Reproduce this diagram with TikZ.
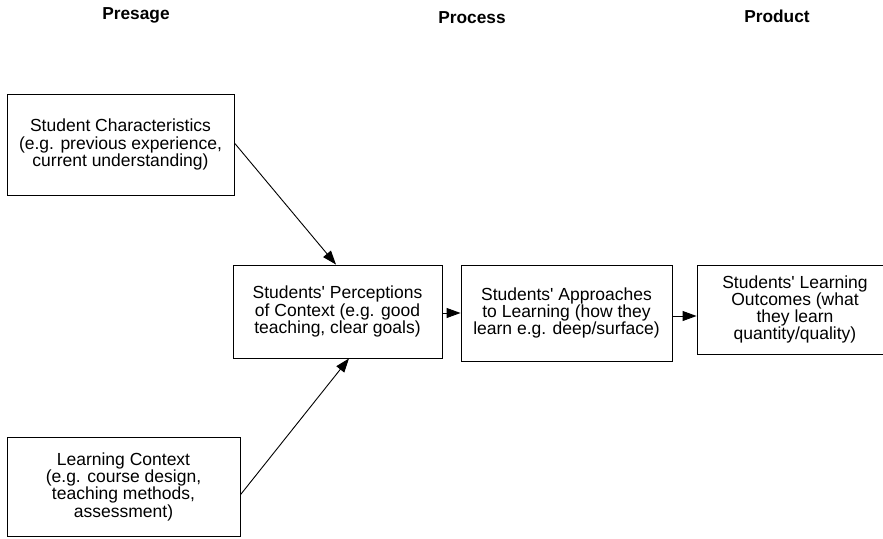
\documentclass[tikz,border=0pt]{standalone}
\usepackage{fontspec}
\setmainfont{Liberation Sans}
\usetikzlibrary{arrows.meta}
\tikzset{
  box/.style={draw, line width=0.9pt, rectangle, align=center, inner sep=0pt,
    font=\fontsize{17.5}{17.2}\selectfont},
  head/.style={font=\fontsize{17.3}{18}\selectfont\bfseries, inner sep=0pt},
  conn/.style={line width=0.9pt, -{Triangle[length=14pt,width=10pt]}}
}
\newcommand{\ap}{\textquotesingle}
\begin{document}
\begin{tikzpicture}[x=1pt,y=-1pt]
\useasboundingbox (0,0) rectangle (883,538);
\node[head] (presage) at (136,15) {Presage};
\node[head] (process) at (472,18) {Process};
\node[head] (product) at (777,16) {Product};
\node[box, minimum width=227pt, minimum height=101pt] (b1) at (120.5,144.5)
  {Student Characteristics\\(e.g. previous experience,\\current understanding)};
\node[box, minimum width=209pt, minimum height=93pt] (b2) at (337.5,311.5)
  {Students\ap{} Perceptions\\of Context (e.g. good\\teaching, clear goals)};
\node[box, minimum width=211pt, minimum height=96pt] (b3) at (566.5,313)
  {Students\ap{} Approaches\\to Learning (how they\\learn e.g. deep/surface)};
\node[box, minimum width=196pt, minimum height=89pt] (b4) at (795,309.5)
  {Students\ap{} Learning\\Outcomes (what\\they learn\\quantity/quality)};
\node[box, minimum width=233pt, minimum height=99.5pt] (b5) at (123.5,486.75)
  {Learning Context\\(e.g. course design,\\teaching methods,\\assessment)};
\draw[conn] ([yshift=1.5pt]b1.east) -- ([xshift=-1.5pt]b2.north);
\draw[conn] ([yshift=-8pt]b5.east) -- ([xshift=11.5pt]b2.south);
\draw[conn] (b2.east |- b3.west) -- (b3.west);
\draw[conn] ([yshift=-3pt]b3.east) -- ([yshift=-3pt]b3.east -| b4.west);
\end{tikzpicture}
\end{document}
